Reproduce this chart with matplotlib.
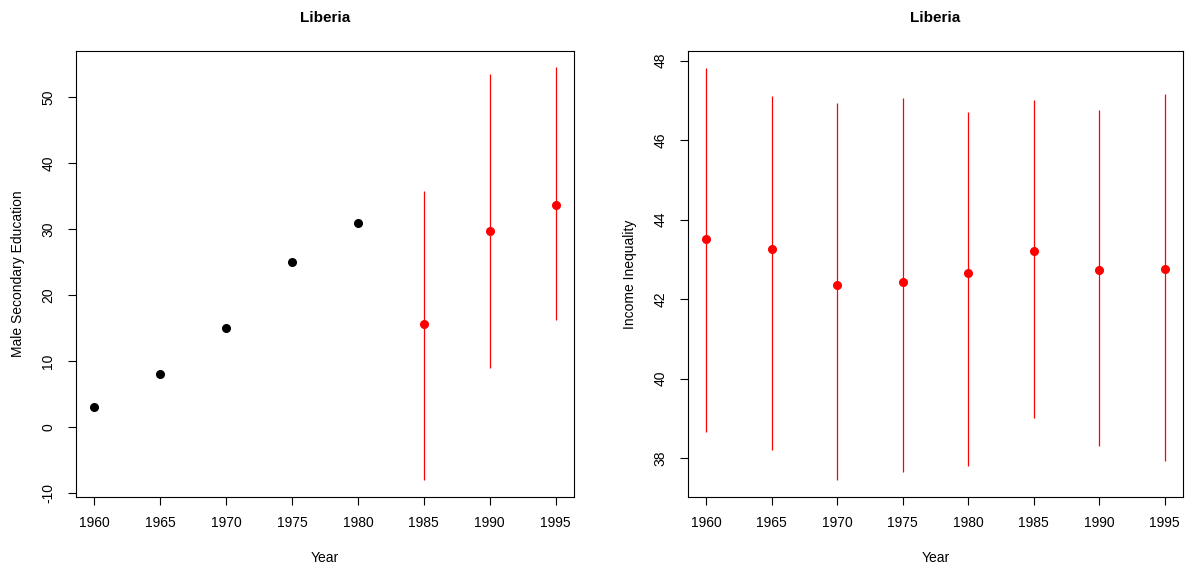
import matplotlib.pyplot as plt

plt.rcParams['font.family'] = ['Liberation Sans', 'DejaVu Sans']

years = [1960, 1965, 1970, 1975, 1980, 1985, 1990, 1995]

# male secondary education: observed (black) and imputed (red, with intervals)
edu_obs_years = [1960, 1965, 1970, 1975, 1980]
edu_obs = [3.0, 8.0, 15.0, 25.0, 31.0]
edu_imp_years = [1985, 1990, 1995]
edu_imp = [15.6, 29.7, 33.7]
edu_low = [-8.1, 8.9, 16.3]
edu_high = [35.8, 53.5, 54.5]

# income inequality: all imputed
ineq = [43.51, 43.27, 42.35, 42.42, 42.65, 43.21, 42.74, 42.76]
ineq_low = [38.65, 38.21, 37.44, 37.65, 37.81, 39.01, 38.29, 37.92]
ineq_high = [47.82, 47.10, 46.93, 47.06, 46.71, 47.01, 46.76, 47.15]

fig = plt.figure(figsize=(11.92, 5.75), dpi=100)
ax1 = fig.add_axes([0.0638, 0.1357, 0.4178, 0.7756])
ax2 = fig.add_axes([0.5772, 0.1357, 0.4153, 0.7756])


def style(ax, ylabel, yticks, ylim):
    ax.set_xlim(1958.6, 1996.4)
    ax.set_ylim(*ylim)
    ax.set_xticks(years)
    ax.set_yticks(yticks)
    ax.set_yticklabels([str(t) for t in yticks], rotation=90, va='center')
    ax.tick_params(direction='out', length=6, width=0.8, labelsize=10)
    ax.tick_params(axis='x', pad=8)
    ax.tick_params(axis='y', pad=9)
    for s in ax.spines.values():
        s.set_linewidth(0.8)
    ax.set_title("Liberia", fontsize=11, fontweight='bold', pad=21)
    ax.set_xlabel("Year", fontsize=10, labelpad=15)
    ax.set_ylabel(ylabel, fontsize=10, labelpad=12)


# left panel
ax1.vlines(edu_imp_years, edu_low, edu_high, color='red', linewidth=0.9)
ax1.plot(edu_obs_years, edu_obs, 'o', color='black', markersize=5.5)
ax1.plot(edu_imp_years, edu_imp, 'o', color='red', markersize=5.5)
style(ax1, "Male Secondary Education", [-10, 0, 10, 20, 30, 40, 50], (-10.6, 57.0))

# right panel
ax2.vlines(years, ineq_low, ineq_high, color='red', linewidth=0.9)
ax2.plot(years, ineq, 'o', color='red', markersize=5.5)
style(ax2, "Income Inequality", [38, 40, 42, 44, 46, 48], (37.02, 48.24))

fig.savefig("out.png", dpi=100)
